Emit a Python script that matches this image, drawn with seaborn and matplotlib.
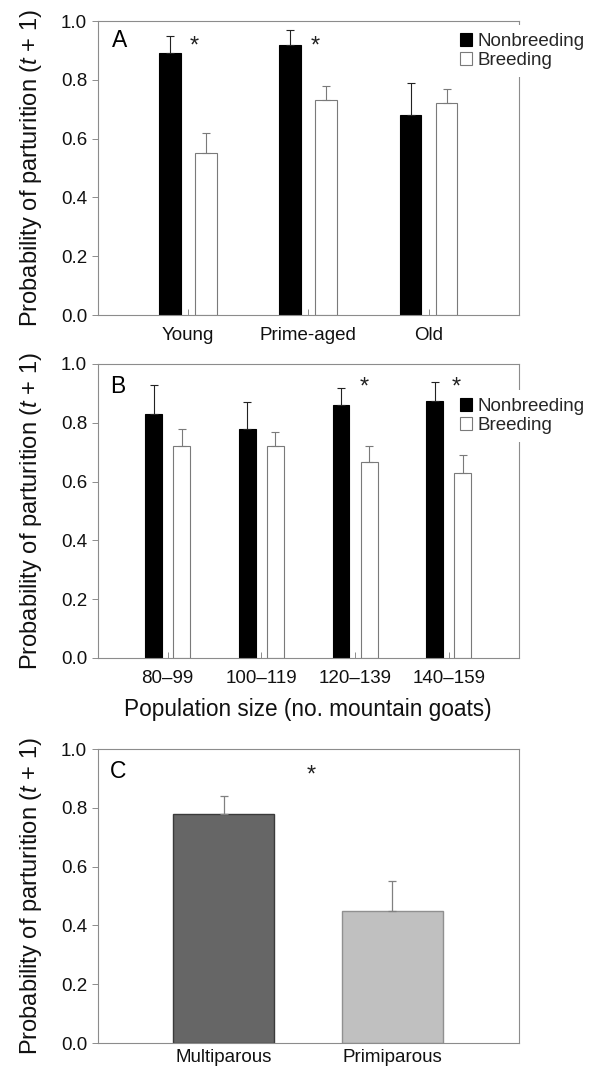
'''Probability of parturition by age class, population size and parity'''

import matplotlib
matplotlib.use('Agg')
import matplotlib.pyplot as plt
from matplotlib.patches import Patch
import seaborn as sns
import pandas as pd
import numpy as np

# data
status = ['Nonbreeding', 'Breeding']

age_classes = ['Young', 'Prime-aged', 'Old']
age_nonbreeding = [0.89, 0.92, 0.68]
age_breeding = [0.55, 0.73, 0.72]
age_nonbreeding_se = [0.06, 0.05, 0.11]
age_breeding_se = [0.07, 0.05, 0.05]

pop_classes = ['80–99', '100–119', '120–139', '140–159']
pop_nonbreeding = [0.83, 0.78, 0.86, 0.875]
pop_breeding = [0.72, 0.72, 0.665, 0.63]
pop_nonbreeding_se = [0.10, 0.09, 0.06, 0.065]
pop_breeding_se = [0.06, 0.05, 0.055, 0.06]

parity = ['Multiparous', 'Primiparous']
parity_prob = [0.78, 0.45]
parity_se = [0.06, 0.10]

# significance stars: (category index, x offset)
age_stars = [(0, 0.05), (1, 0.06)]
pop_stars = [(2, 0.10), (3, 0.08)]

sns.set_style('white')
plt.rcParams['font.family'] = ['Liberation Sans', 'DejaVu Sans']
plt.rcParams['mathtext.fontset'] = 'custom'
plt.rcParams['mathtext.it'] = 'Liberation Sans:italic'
plt.rcParams['mathtext.rm'] = 'Liberation Sans'

SPINE = '#8c8c8c'
GREY_EDGE = '#7a7a7a'
YLAB = r'Probability of parturition ($\mathit{t}$ + 1)'
TICK_FS = 13.5
LAB_FS = 17
STAR_FS = 17
LETTER_FS = 16.5


def long_df(cats, nb, br):
    df = pd.DataFrame({'cat': cats, 'Nonbreeding': nb, 'Breeding': br})
    return df.melt('cat', var_name='status', value_name='prob')


def style_axes(ax, ncat):
    ax.set_ylim(0, 1.0)
    ax.set_xlim(-0.75, ncat - 0.25)
    ax.set_yticks(np.arange(0, 1.01, 0.2))
    ax.set_yticklabels(['%.1f' % v for v in np.arange(0, 1.01, 0.2)])
    for s in ax.spines.values():
        s.set_color(SPINE)
        s.set_linewidth(0.8)
        s.set_visible(True)
    ax.tick_params(axis='y', direction='out', length=4, width=0.7, color=SPINE,
                   labelsize=TICK_FS, pad=3.5, left=True, labelcolor='#111111')
    ax.tick_params(axis='x', direction='in', length=4, width=0.7, color=SPINE,
                   labelsize=TICK_FS, pad=8.5, bottom=True, labelcolor='#111111')
    ax.set_ylabel(YLAB, fontsize=LAB_FS, color='#111111')
    ax.yaxis.set_label_coords(-0.128, 0.5)
    ax.set_xlabel('')


def add_errors(ax, errs, colors):
    for cont, err, col in zip(ax.containers, errs, colors):
        xs = [b.get_x() + b.get_width() / 2 for b in cont]
        ys = [b.get_height() for b in cont]
        ax.errorbar(xs, ys, yerr=[np.zeros(len(err)), err], fmt='none',
                    ecolor=col, elinewidth=0.8, capsize=3, capthick=0.8, zorder=1)


def paired_panel(ax, cats, nb, br, nb_se, br_se, stars, letter, letter_xy, leg_y, star_y):
    df = long_df(cats, nb, br)
    sns.barplot(data=df, x='cat', y='prob', hue='status', hue_order=status,
                palette=['black', 'white'], saturation=1, width=0.6, gap=0.4,
                errorbar=None, legend=False, ax=ax)
    for b in ax.containers[0]:
        b.set_edgecolor('black')
        b.set_linewidth(0.8)
    for b in ax.containers[1]:
        b.set_edgecolor(GREY_EDGE)
        b.set_linewidth(0.8)
    add_errors(ax, [nb_se, br_se], ['#222222', GREY_EDGE])
    style_axes(ax, len(cats))
    ax.set_xticks(range(len(cats)))
    ax.set_xticklabels(cats)
    for i, dx in stars:
        ax.text(i + dx, star_y, '*', ha='center', va='baseline', fontsize=STAR_FS, color='#222222')
    ax.text(letter_xy[0], letter_xy[1], letter, transform=ax.transAxes, fontsize=LETTER_FS,
            ha='left', va='center', color='black')
    handles = [Patch(facecolor='black', edgecolor='black', linewidth=0.8),
               Patch(facecolor='white', edgecolor=GREY_EDGE, linewidth=0.8)]
    leg = ax.legend(handles, status, loc='center left', bbox_to_anchor=(0.842, leg_y),
                    fontsize=TICK_FS, frameon=True, framealpha=1, facecolor='white',
                    edgecolor='none', fancybox=False, borderpad=0.4,
                    handlelength=0.66, handleheight=0.66, handletextpad=0.28,
                    labelspacing=0.12, borderaxespad=0)
    leg.set_zorder(5)


fig = plt.figure(figsize=(5.91, 10.69), dpi=100)
ax_a = fig.add_axes([0.165, 0.7053, 0.713, 0.275])
ax_b = fig.add_axes([0.165, 0.3845, 0.713, 0.275])
ax_c = fig.add_axes([0.165, 0.0243, 0.713, 0.275])

# A: age classes
paired_panel(ax_a, age_classes, age_nonbreeding, age_breeding, age_nonbreeding_se,
             age_breeding_se, age_stars, 'A', (0.034, 0.933), 0.898, 0.892)

# B: population size
paired_panel(ax_b, pop_classes, pop_nonbreeding, pop_breeding, pop_nonbreeding_se,
             pop_breeding_se, pop_stars, 'B', (0.03, 0.925), 0.823, 0.899)
ax_b.set_xlabel('Population size (no. mountain goats)', fontsize=16.3, color='#111111')
ax_b.xaxis.set_label_coords(0.5, -0.135)

# C: parity
df_c = pd.DataFrame({'parity': parity, 'prob': parity_prob})
sns.barplot(data=df_c, x='parity', y='prob', hue='parity', palette=['#666666', '#c0c0c0'],
            saturation=1, width=0.6, errorbar=None, legend=False, ax=ax_c)
for b, ec in zip(ax_c.patches, ['#3a3a3a', '#909090']):
    b.set_edgecolor(ec)
    b.set_linewidth(1.0)
xs = [b.get_x() + b.get_width() / 2 for b in ax_c.patches]
ax_c.errorbar(xs, parity_prob, yerr=[np.zeros(len(parity_se)), parity_se], fmt='none',
              ecolor='#808080', elinewidth=0.9, capsize=3, capthick=0.9, zorder=1)
style_axes(ax_c, len(parity))
# keep the bottom labels inside the canvas
ax_c.tick_params(axis='x', length=0, pad=4.5)
ax_c.set_xticks(range(len(parity)))
ax_c.set_xticklabels(parity)
ax_c.text(0.52, 0.889, '*', ha='center', va='baseline', fontsize=STAR_FS, color='#222222')
ax_c.text(0.03, 0.922, 'C', transform=ax_c.transAxes, fontsize=LETTER_FS,
          ha='left', va='center', color='black')

plt.savefig('out.png', dpi=100)
